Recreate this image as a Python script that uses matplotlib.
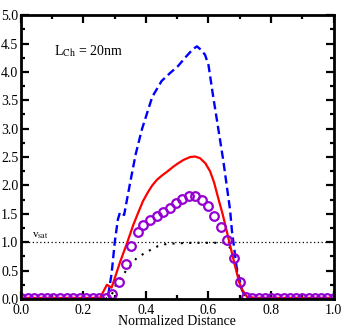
import matplotlib
matplotlib.use('Agg')
import matplotlib.pyplot as plt
from matplotlib.ticker import MultipleLocator

plt.rcParams['font.family'] = ['Liberation Serif', 'DejaVu Serif']
plt.rcParams['mathtext.fontset'] = 'stix'

# velocity profiles along the channel (normalized)
x_blue = [0.0, 0.10, 0.20, 0.26, 0.28, 0.29, 0.30, 0.31, 0.317, 0.33, 0.349, 0.367,
          0.387, 0.405, 0.42, 0.45, 0.477, 0.502, 0.53, 0.55, 0.563, 0.578, 0.589,
          0.60, 0.614, 0.627, 0.647, 0.669, 0.675, 0.69, 0.707, 0.72, 0.74, 1.0]
y_blue = [0.0, 0.0, 0.0, 0.0, 0.1, 0.45, 1.0, 1.4, 1.53, 1.48, 2.04, 2.55,
          2.99, 3.3, 3.56, 3.84, 3.98, 4.1, 4.28, 4.4, 4.45, 4.38, 4.3,
          4.12, 3.6, 3.15, 2.45, 1.57, 1.2, 0.56, 0.16, 0.02, 0.0, 0.0]

x_red = [0.0, 0.10, 0.20, 0.253, 0.275, 0.29, 0.317, 0.339, 0.359, 0.375, 0.39,
         0.406, 0.42, 0.435, 0.45, 0.467, 0.485, 0.5, 0.52, 0.541, 0.557, 0.573,
         0.59, 0.605, 0.618, 0.63, 0.645, 0.659, 0.672, 0.685, 0.698, 0.707,
         0.723, 0.75, 1.0]
y_red = [0.02, 0.02, 0.02, 0.02, 0.25, 0.2, 0.65, 0.98, 1.3, 1.52, 1.72,
         1.88, 2.0, 2.1, 2.17, 2.24, 2.32, 2.38, 2.45, 2.5, 2.51, 2.48,
         2.39, 2.25, 2.05, 1.8, 1.5, 1.18, 0.88, 0.58, 0.3, 0.17,
         0.04, 0.02, 0.02]

x_circ = [0.0, 0.021, 0.042, 0.063, 0.083, 0.104, 0.125, 0.146, 0.167, 0.188,
          0.208, 0.229, 0.25, 0.271, 0.292, 0.314, 0.335, 0.352, 0.373, 0.391,
          0.414, 0.435, 0.455, 0.476, 0.496, 0.516, 0.537, 0.557, 0.578, 0.597,
          0.618, 0.64, 0.658, 0.682, 0.70, 0.72, 0.74, 0.76, 0.78, 0.80, 0.82,
          0.84, 0.86, 0.88, 0.90, 0.92, 0.94, 0.96, 0.98, 1.0]
y_circ = [0.02, 0.02, 0.02, 0.02, 0.02, 0.02, 0.02, 0.02, 0.02, 0.02,
          0.02, 0.02, 0.02, 0.02, 0.09, 0.3, 0.62, 0.94, 1.18, 1.31,
          1.39, 1.46, 1.53, 1.61, 1.69, 1.76, 1.81, 1.81, 1.75, 1.64,
          1.47, 1.27, 1.04, 0.72, 0.3, 0.04, 0.02, 0.02, 0.02, 0.02, 0.02,
          0.02, 0.02, 0.02, 0.02, 0.02, 0.02, 0.02, 0.02, 0.02]

x_blk = [0.27, 0.29, 0.306, 0.338, 0.37, 0.402, 0.438, 0.466, 0.50, 0.55, 0.60,
         0.65, 0.665, 0.685, 0.70, 0.72]
y_blk = [0.0, 0.07, 0.28, 0.51, 0.72, 0.83, 0.93, 0.97, 0.98, 0.99, 0.99,
         0.99, 0.95, 0.65, 0.25, 0.02]

v_sat = 1.0

fig = plt.figure(figsize=(3.44, 3.29), dpi=100)
ax = fig.add_axes([0.061, 0.0912, 0.9085, 0.8628])

ax.axhline(v_sat, color='black', linestyle=(0, (1, 2)), linewidth=0.9)
ax.plot(x_blk, y_blk, color='black', linestyle=(0, (1, 3)), linewidth=1.5)
ax.plot(x_blue, y_blue, color='#0000FF', linestyle=(0, (3.5, 1.8)), linewidth=1.7)
ax.plot(x_red, y_red, color='#FF0000', linewidth=1.6)
ax.plot(x_circ, y_circ, linestyle='none', marker='o', markersize=6.2,
        markerfacecolor='none', markeredgecolor='#9400D3', markeredgewidth=1.6)

ax.text(0.035, 1.08, r'v$_{\rm sat}$', fontsize=8)
ax.text(0.105, 4.3, r'L$_{\rm Ch}$ = 20nm', fontsize=10)

ax.set_xlim(0, 1.0)
ax.set_ylim(0, 5.0)
ax.xaxis.set_major_locator(MultipleLocator(0.2))
ax.xaxis.set_minor_locator(MultipleLocator(0.1))
ax.yaxis.set_major_locator(MultipleLocator(0.5))
ax.yaxis.set_minor_locator(MultipleLocator(0.25))
ax.tick_params(which='both', direction='in', top=True, right=True,
               labelsize=10, width=1.6)
ax.tick_params(axis='y', pad=2)
ax.tick_params(axis='x', pad=3.5)
ax.tick_params(which='major', length=6)
ax.tick_params(which='minor', length=3)
for s in ax.spines.values():
    s.set_linewidth(2)

ax.set_xlabel('Normalized Distance', fontsize=10, labelpad=-1)

fig.savefig('out.png', dpi=100)
